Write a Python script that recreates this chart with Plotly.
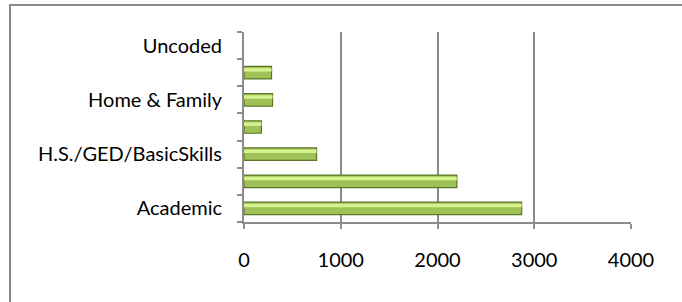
import plotly.graph_objects as go

categories = ["Academic", "Career/Technical", "H.S./GED/BasicSkills", "Personal Enrichment",
              "Home & Family", "Recreation", "Uncoded"]
shown_labels = ["Academic", "", "H.S./GED/BasicSkills", "", "Home & Family", "", "Uncoded"]
values = [2870, 2200, 750, 180, 295, 285, 0]
x_ticks = [0, 1000, 2000, 3000, 4000]

FONT = "Lato"
GRAY = "#8c8c8c"

edge_widths = [1.2 if v > 0 else 0 for v in values]

fig = go.Figure()
# main bar body
fig.add_trace(go.Bar(
    y=categories, x=values, orientation="h",
    width=0.46, offset=-0.23,
    marker=dict(color="#9fc257", line=dict(color="#5b7628", width=edge_widths)),
    hoverinfo="x+y", showlegend=False,
))
# lighter highlight for the bevel look
fig.add_trace(go.Bar(
    y=categories, x=values, orientation="h",
    width=0.13, offset=0.04,
    marker=dict(color="#d6f190", line=dict(width=0)),
    hoverinfo="skip", showlegend=False,
))

fig.update_layout(
    width=682, height=302,
    margin=dict(l=244, r=51, t=32, b=80),
    paper_bgcolor="white", plot_bgcolor="white",
    barmode="overlay",
    font=dict(family=FONT, size=20, color="#000000"),
    xaxis=dict(
        range=[0, 4000], tickvals=x_ticks, ticktext=[str(v) for v in x_ticks],
        showgrid=True, gridcolor=GRAY, gridwidth=1.5,
        showline=True, linecolor=GRAY, linewidth=2,
        ticks="outside", ticklen=5, tickcolor=GRAY, tickwidth=1.5,
        ticklabelstandoff=14, zeroline=False, fixedrange=True,
        tickfont=dict(family=FONT, size=20),
    ),
    yaxis=dict(
        categoryorder="array", categoryarray=categories,
        range=[-0.5, 6.5],
        tickmode="array", tickvals=categories, ticktext=shown_labels,
        tickson="boundaries",
        showgrid=False, showline=True, linecolor=GRAY, linewidth=2,
        ticks="outside", ticklen=5, tickcolor=GRAY, tickwidth=1.5,
        ticklabelstandoff=16, fixedrange=True,
        tickfont=dict(family=FONT, size=20),
    ),
    shapes=[dict(
        type="rect", xref="paper", yref="paper",
        x0=-0.6047, x1=2.0, y0=-1.0, y1=1.142,
        line=dict(color="#8a8a8a", width=2), fillcolor="rgba(0,0,0,0)", layer="below",
    )],
)

fig.write_html(
    "out.html",
    config={"displayModeBar": False},
    post_script="document.body.style.margin='0';document.body.style.overflow='hidden';",
)
